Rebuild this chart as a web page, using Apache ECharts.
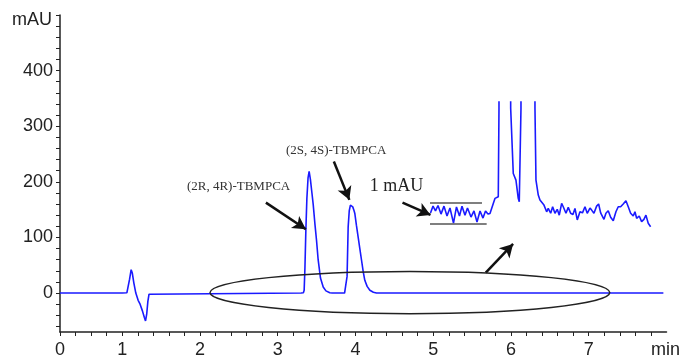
<!DOCTYPE html>
<html><head><meta charset="utf-8">
<script src="https://cdn.jsdelivr.net/npm/echarts@6/dist/echarts.min.js"></script>
<style>html,body{margin:0;padding:0;background:#fff}#c{width:683px;height:360px}</style>
</head><body><div id="c"></div>
<script>
// Main chromatogram: [time (min), absorbance (mAU)]
const mainTrace = [
  [0.2,0],[1.0,0],[1.06,0.5],[1.078,3],[1.095,25],[1.115,42],[1.13,36],[1.15,18],[1.175,0],
  [1.205,-13],[1.23,-20],[1.26,-32],[1.285,-44],[1.30,-50],[1.315,-38],[1.33,-15],[1.345,-2],[1.37,0],
  [3.30,0],[3.33,0.5],[3.34,5],[3.35,45],[3.362,113],[3.375,170],[3.39,207],[3.404,219],[3.42,205],
  [3.44,180],[3.456,160],[3.478,125],[3.499,95],[3.52,60],[3.55,27],[3.585,11],[3.62,4],[3.67,0.5],[3.70,0],
  [3.86,0],[3.88,1],[3.892,30],[3.906,119],[3.92,148],[3.935,158],[3.949,160],[3.965,155],[3.98,149],
  [3.992,143],[4.012,122],[4.034,101],[4.056,80],[4.078,59],[4.10,38],[4.12,23],[4.15,12],[4.185,5],
  [4.23,1.5],[4.27,0],[7.96,0]
];
// Inset: baseline region magnified (time in min, mAU); peaks run off the top
const insetTrace = [
  [1.612,0],[1.672,0.33],[1.731,0.10],[1.791,0.36],[1.863,-0.05],[1.934,0.33],[2.006,-0.14],[2.077,0.24],
  [2.161,-0.48],[2.232,0.29],[2.304,-0.14],[2.364,0.33],[2.435,-0.10],[2.495,0.24],[2.579,-0.19],[2.650,0.10],
  [2.722,-0.43],[2.794,0.10],[2.865,-0.24],[2.925,0.10],[2.984,-0.05],[3.032,-0.02],[3.111,0.46],[3.151,0.70],
  [3.192,0.62],[3.230,0.78],[3.247,5.0],[3.26,60],[3.51,60],[3.526,5.0],[3.588,1.89],[3.652,1.57],[3.707,0.70],
  [3.731,0.54],[3.755,0.60],[3.772,5.0],[3.785,60],[4.09,60],[4.106,5.0],[4.130,1.57],[4.185,0.86],[4.225,0.62],
  [4.266,0.70],[4.321,0.38],[4.385,0.06],[4.423,0.22],[4.481,-0.01],[4.528,0.30],[4.583,-0.01],[4.638,0.18],
  [4.686,-0.10],[4.743,0.46],[4.781,0.30],[4.846,-0.01],[4.901,0.27],[4.958,-0.01],[5.013,-0.07],[5.061,0.22],
  [5.116,-0.33],[5.180,0.06],[5.240,0.01],[5.300,0.30],[5.354,-0.01],[5.419,0.24],[5.459,0.14],[5.514,-0.01],
  [5.578,0.33],[5.626,0.43],[5.674,0.01],[5.753,-0.30],[5.800,-0.01],[5.855,0.11],[5.913,-0.20],[5.975,-0.37],
  [6.039,0.06],[6.094,0.30],[6.151,0.30],[6.213,0.43],[6.278,0.59],[6.333,0.30],[6.390,-0.01],[6.452,-0.14],
  [6.493,0.06],[6.533,-0.25],[6.595,-0.14],[6.652,-0.41],[6.707,-0.30],[6.755,-0.10],[6.810,-0.49],[6.867,-0.65]
];
const xLabelValues = [0.2,1,2,3,4,5,6,7];
const xTickValues = [0.2,0.4,0.6,0.8,1,1.2,1.4,1.6,1.8,2,2.2,2.4,2.6,2.8,3,3.2,3.4,3.6,3.8,4,4.2,4.4,4.6,4.8,5,5.2,5.4,5.6,5.8,6,6.2,6.4,6.6,6.8,7,7.2,7.4,7.6,7.8];
const yLabelValues = [0,100,200,300,400];
const yTickValues = [-60,-40,-20,0,20,40,60,80,100,120,140,160,180,200,220,240,260,280,300,320,340,360,380,400,420,440,460,480,500];
const noiseBand = [0.5,-0.5]; // 1 mAU band in inset
const peakNames = ['(2R, 4R)-TBMPCA','(2S, 4S)-TBMPCA'];
const noiseText = '1 mAU';
// annotation arrows [tail, head] in main data coordinates
const arrows = [
  [[2.848,162.7],[3.362,114.8]],
  [[3.722,236.6],[3.921,167.6]],
  [[4.605,162.7],[4.965,140.5]],
  [[5.676,36.6],[6.027,88.3]]
];

const chart = echarts.init(document.getElementById('c'));
const axisCol = '#222';
const sans = '"Liberation Sans", Arial, sans-serif';
const serif = '"Liberation Serif", "Times New Roman", serif';

chart.setOption({
  animation:false,
  backgroundColor:'#fff',
  grid:[
    {left:60,right:16,top:15,bottom:28},
    {left:430,right:31,top:102,bottom:126}
  ],
  xAxis:[
    {type:'value',gridIndex:0,min:0.2,max:8.0,
     name:'min',nameLocation:'end',nameGap:-1,
     nameTextStyle:{fontFamily:sans,fontSize:18,color:axisCol,align:'center',verticalAlign:'top',padding:[9,0,0,0]},
     axisLine:{show:true,onZero:false,lineStyle:{color:axisCol,width:1.5}},
     axisTick:{show:true,customValues:xTickValues,length:4,lineStyle:{color:axisCol,width:1}},
     axisLabel:{customValues:xLabelValues,margin:9,fontFamily:sans,fontSize:18,color:axisCol,
       formatter:v=>v<0.5?'0':String(Math.round(v))},
     splitLine:{show:false}},
    {type:'value',gridIndex:1,min:1.6,max:6.9,show:false}
  ],
  yAxis:[
    {type:'value',gridIndex:0,min:-70,max:500,
     name:'mAU',nameLocation:'end',nameGap:-5,
     nameTextStyle:{fontFamily:sans,fontSize:18,color:axisCol,align:'right',verticalAlign:'middle',padding:[0,8,0,0]},
     axisLine:{show:true,onZero:false,lineStyle:{color:axisCol,width:1.5}},
     axisTick:{show:true,customValues:yTickValues,length:4,lineStyle:{color:axisCol,width:1}},
     axisLabel:{customValues:yLabelValues,margin:7,fontFamily:sans,fontSize:18,color:axisCol},
     splitLine:{show:false}},
    {type:'value',gridIndex:1,min:-1,max:5.3,show:false}
  ],
  series:[
    {type:'line',xAxisIndex:0,yAxisIndex:0,data:mainTrace,showSymbol:false,symbol:'none',
     lineStyle:{color:'#1a1aff',width:1.6},z:3,
     markLine:{silent:true,symbol:['none','arrow'],symbolSize:[11,13],
       lineStyle:{color:'#111',width:2.5,type:'solid'},label:{show:false},
       data:arrows.map(a=>[{coord:a[0]},{coord:a[1]}])}},
    {type:'line',xAxisIndex:1,yAxisIndex:1,data:insetTrace,showSymbol:false,symbol:'none',clip:true,
     lineStyle:{color:'#1a1aff',width:1.6},z:3,
     markLine:{silent:true,symbol:['none','none'],
       lineStyle:{color:'#555',width:1.5,type:'solid'},label:{show:false},
       data:[[{coord:[1.6,noiseBand[0]]},{coord:[2.841,noiseBand[0]]}],
             [{coord:[1.6,noiseBand[1]]},{coord:[2.953,noiseBand[1]]}]]}}
  ]
});

function px(t,v){return chart.convertToPixel({xAxisIndex:0,yAxisIndex:0},[t,v]);}
const ec = px(4.7,0.9);
const ex = px(4.7+2.571,0.9);
const ey = px(4.7,0.9-38);
const l1 = px(1.832,191.5), l2 = px(3.105,255.9), l3 = px(4.185,191.5);
function txt(p,s,font,fill){return {type:'text',x:p[0],y:p[1],z:10,
  style:{text:s,font:font,fill:fill,textAlign:'left',textVerticalAlign:'middle',align:'left',verticalAlign:'middle'}};}
chart.setOption({graphic:[
  {type:'ellipse',z:5,shape:{cx:ec[0],cy:ec[1],rx:ex[0]-ec[0],ry:ey[1]-ec[1]},
   style:{fill:'none',stroke:'#222',lineWidth:1.5}},
  txt(l1,peakNames[0],'13px '+serif,'#333'),
  txt(l2,peakNames[1],'13px '+serif,'#333'),
  txt(l3,noiseText,'18px '+serif,'#222')
]});
</script></body></html>
